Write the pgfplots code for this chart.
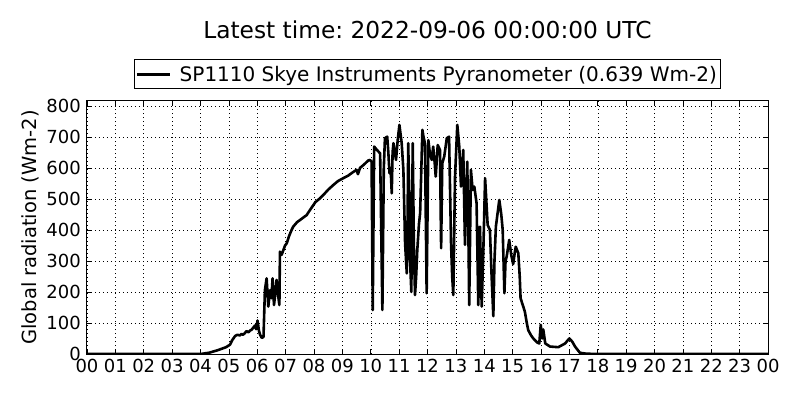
\documentclass[border=0pt]{standalone}
\usepackage{fontspec}
\setmainfont{DejaVu Sans}
\usepackage{pgfplots}
\pgfplotsset{compat=1.18}
\frenchspacing
\begin{document}
\begin{tikzpicture}
\path[use as bounding box] (-87pt,-46pt) rectangle (713pt,354pt);
\begin{axis}[
  at={(0pt,0pt)}, anchor=south west,
  scale only axis,
  width=681pt, height=253pt,
  xmin=0, xmax=24, ymin=0, ymax=816,
  xtick={0,1,...,24},
  xticklabels={00,01,02,03,04,05,06,07,08,09,10,11,12,13,14,15,16,17,18,19,20,21,22,23,00},
  ytick={0,100,...,800},
  yticklabels={0,100,200,300,400,500,600,700,800},
  tick align=inside,
  major tick length=5pt,
  tick style={black, line width=0.6pt},
  axis line style={black, line width=1pt},
  grid=major,
  grid style={black, line width=0.5pt, dash pattern=on 1pt off 3pt},
  ticklabel style={font=\fontsize{18}{21}\selectfont},
  yticklabel style={anchor=east, inner sep=0pt, xshift=-6pt},
  xticklabel style={anchor=north, inner sep=0pt, yshift=-5pt},
  ylabel={Global radiation (Wm-2)},
  every axis y label/.style={at={(axis description cs:-0.0837,0.5)}, rotate=90, anchor=center, font=\fontsize{19.5}{23}\selectfont},
  title={Latest time: 2022-09-06 00:00:00 UTC},
  title style={at={(axis description cs:0.5,1)}, anchor=base, yshift=56pt, font=\fontsize{23.3}{27}\selectfont},
  legend style={at={(axis description cs:0.5,1)}, anchor=south, yshift=12pt, draw=black, line width=0.8pt, inner xsep=2pt, inner ysep=4pt, font=\fontsize{20}{24}\selectfont},
  legend image code/.code={\draw[#1, line width=2.6pt] (0pt,0pt) -- (33pt,0pt); \path (39pt,0pt);},
]
\addplot[black, line width=2.6pt, line join=round] coordinates {
(0,0) (4.0,0) (4.3,4) (4.6,12) (4.9,22) (5.04,30) (5.12,45) (5.22,58) (5.3,62) (5.39,60)
(5.45,65) (5.5,62) (5.57,68) (5.62,74) (5.69,70) (5.75,76) (5.8,78) (5.86,85) (5.92,92) (5.96,80)
(6.01,108) (6.06,75) (6.1,62) (6.16,52) (6.22,55) (6.27,206) (6.33,244) (6.39,153) (6.45,206) (6.5,180)
(6.54,244) (6.59,158) (6.63,190) (6.68,239) (6.72,200) (6.78,158) (6.8,330) (6.86,320) (6.92,335) (6.98,350)
(7.04,357) (7.12,380) (7.21,400) (7.27,411) (7.4,425) (7.55,435) (7.74,448) (7.9,470) (8.05,490) (8.21,502)
(8.35,515) (8.5,530) (8.68,545) (8.85,558) (9.03,567) (9.2,575) (9.35,585) (9.5,594) (9.55,580) (9.62,600)
(9.75,610) (9.91,624) (9.97,626) (10.03,620) (10.07,142) (10.12,669) (10.2,660) (10.27,653) (10.33,647) (10.41,142)
(10.46,600) (10.5,696) (10.58,701) (10.62,650) (10.66,583) (10.7,600) (10.74,518) (10.77,650) (10.8,680) (10.89,626)
(10.95,690) (11.01,739) (11.05,710) (11.09,680) (11.15,594) (11.21,357) (11.27,260) (11.3,450) (11.32,680) (11.36,500)
(11.38,314) (11.43,200) (11.48,680) (11.52,350) (11.56,190) (11.6,250) (11.64,335) (11.7,420) (11.74,454) (11.82,723)
(11.86,700) (11.91,680) (11.97,196) (12.03,690) (12.08,650) (12.15,626) (12.2,669) (12.25,620) (12.29,572) (12.36,674)
(12.44,658) (12.48,341) (12.52,615) (12.59,637) (12.68,696) (12.76,701) (12.83,357) (12.87,250) (12.91,190) (12.97,572)
(13.05,739) (13.12,669) (13.18,540) (13.26,658) (13.32,352) (13.4,620) (13.44,400) (13.47,158) (13.53,594) (13.59,529)
(13.65,540) (13.73,486) (13.79,158) (13.85,411) (13.91,153) (13.97,341) (14.03,567) (14.12,416) (14.2,400) (14.26,250)
(14.32,122) (14.36,300) (14.41,411) (14.53,497) (14.6,450) (14.65,400) (14.71,196) (14.75,300) (14.79,314) (14.85,350)
(14.88,368) (14.95,320) (15.02,290) (15.08,330) (15.11,346) (15.2,325) (15.25,250) (15.28,180) (15.35,160) (15.43,137)
(15.5,100) (15.55,77) (15.65,60) (15.73,50) (15.87,37) (15.94,34) (15.99,94) (16.04,50) (16.08,79) (16.15,34)
(16.32,24) (16.61,22) (16.85,34) (16.95,45) (17.0,50) (17.1,40) (17.2,24) (17.37,4) (17.6,1) (18,0) (24,0)
};
\addlegendentry{SP1110 Skye Instruments Pyranometer (0.639 Wm-2)}
\end{axis}
\end{tikzpicture}
\end{document}
